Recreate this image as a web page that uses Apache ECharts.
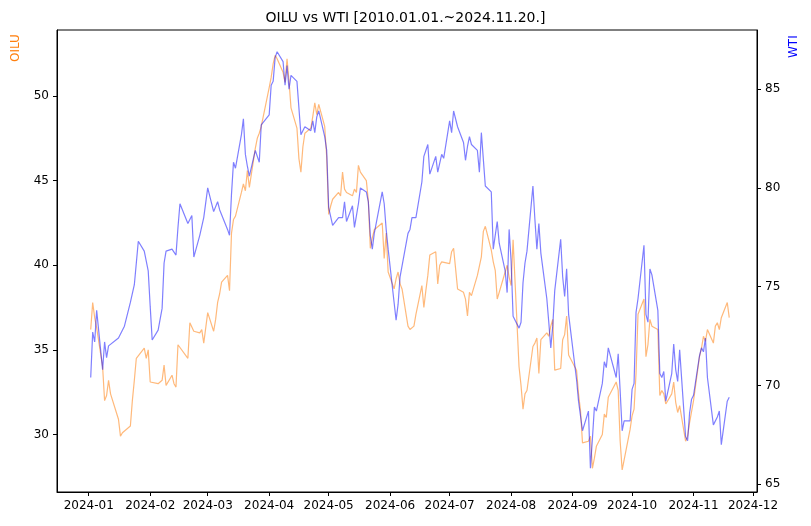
<!DOCTYPE html>
<html><head><meta charset="utf-8">
<script src="https://cdn.jsdelivr.net/npm/echarts@6/dist/echarts.min.js"></script>
<style>html,body{margin:0;padding:0;background:#fff}#c{width:811px;height:526px}</style>
</head><body><div id="c"></div>
<script>
const wtiDates = ['01-02','01-03','01-04','01-05','01-08','01-09','01-10','01-11','01-16','01-19','01-22','01-24','01-26','01-29','01-31','02-01','02-02','02-05','02-07','02-08','02-09','02-12','02-14','02-15','02-16','02-20','02-22','02-23','02-26','02-28','03-01','03-04','03-06','03-07','03-11','03-12','03-13','03-14','03-15','03-18','03-19','03-20','03-21','03-22','03-25','03-26','03-27','03-28','04-01','04-02','04-03','04-04','04-05','04-08','04-09','04-10','04-11','04-12','04-15','04-17','04-18','04-19','04-22','04-23','04-24','04-25','04-26','04-29','04-30','05-01','05-02','05-03','05-06','05-08','05-09','05-10','05-13','05-14','05-15','05-16','05-17','05-20','05-21','05-22','05-23','05-24','05-28','05-29','05-30','05-31','06-03','06-04','06-05','06-06','06-07','06-10','06-11','06-12','06-13','06-14','06-17','06-18','06-19','06-20','06-21','06-24','06-25','06-26','06-27','06-28','07-01','07-02','07-03','07-05','07-08','07-09','07-10','07-11','07-12','07-15','07-16','07-17','07-18','07-19','07-22','07-23','07-24','07-25','07-26','07-29','07-30','07-31','08-01','08-02','08-05','08-06','08-07','08-08','08-09','08-12','08-13','08-14','08-15','08-16','08-19','08-20','08-21','08-22','08-23','08-26','08-27','08-28','08-29','08-30','09-03','09-04','09-05','09-06','09-09','09-10','09-11','09-12','09-13','09-16','09-17','09-18','09-19','09-20','09-23','09-24','09-25','09-26','09-27','09-30','10-01','10-02','10-03','10-04','10-07','10-08','10-09','10-10','10-11','10-14','10-15','10-16','10-17','10-18','10-21','10-22','10-23','10-24','10-25','10-28','10-29','10-30','10-31','11-01','11-04','11-05','11-06','11-07','11-08','11-11','11-12','11-13','11-14','11-15','11-18','11-19'];
const wtiValues = [70.4,72.7,72.2,73.8,70.8,72.2,71.4,72.0,72.4,73.0,74.2,75.1,77.3,76.8,75.8,74.0,72.3,72.8,73.9,76.2,76.8,76.9,76.6,78.0,79.2,78.2,78.6,76.5,77.6,78.5,80.0,78.8,79.3,78.9,77.9,77.6,79.7,81.3,81.0,82.7,83.5,81.7,81.1,80.6,81.9,81.6,81.3,83.2,83.7,85.2,85.4,86.6,86.9,86.4,85.2,86.2,85.0,85.7,85.4,82.7,82.7,83.1,82.9,83.4,82.8,83.6,83.9,82.6,81.9,79.0,78.9,78.1,78.5,78.5,79.3,78.3,79.1,78.0,78.6,79.2,80.0,79.8,79.3,77.6,76.9,77.7,79.8,79.2,77.9,76.9,74.2,73.3,74.1,75.5,75.5,77.7,77.9,78.5,78.6,78.5,80.3,81.6,81.9,82.2,80.7,81.6,80.8,80.9,81.7,81.5,83.4,82.8,83.9,83.1,82.3,81.4,82.1,82.6,82.2,81.9,80.8,82.8,82.8,80.1,79.8,76.9,77.6,78.3,77.2,75.8,74.7,77.9,76.3,73.5,72.9,73.2,75.2,76.2,76.8,80.1,78.4,76.9,78.2,76.7,74.4,73.2,71.9,73.0,74.8,77.4,75.5,74.5,75.9,73.6,70.3,69.2,69.2,67.7,68.7,65.8,67.3,68.9,68.7,70.1,71.2,70.9,71.9,71.9,70.4,71.6,69.7,67.7,68.2,68.2,69.8,70.1,73.7,74.4,77.1,73.6,73.2,75.9,75.6,73.8,70.6,70.4,70.7,69.2,70.6,72.1,70.8,70.2,71.8,67.4,67.2,68.6,69.3,69.5,71.5,71.9,71.7,72.4,70.4,68.0,68.1,68.4,68.7,67.0,69.2,69.4];
const oiluDates = ['01-02','01-03','01-04','01-05','01-08','01-09','01-10','01-11','01-12','01-16','01-17','01-18','01-19','01-22','01-23','01-24','01-25','01-26','01-29','01-30','01-31','02-01','02-02','02-05','02-06','02-07','02-08','02-09','02-12','02-13','02-14','02-15','02-16','02-20','02-21','02-22','02-23','02-26','02-27','02-28','02-29','03-01','03-04','03-05','03-06','03-07','03-08','03-11','03-12','03-13','03-14','03-15','03-18','03-19','03-20','03-21','03-22','03-25','03-26','03-27','03-28','04-01','04-02','04-03','04-04','04-05','04-08','04-09','04-10','04-11','04-12','04-15','04-16','04-17','04-18','04-19','04-22','04-23','04-24','04-25','04-26','04-29','04-30','05-01','05-02','05-03','05-06','05-07','05-08','05-09','05-10','05-13','05-14','05-15','05-16','05-17','05-20','05-21','05-22','05-23','05-24','05-28','05-29','05-30','05-31','06-03','06-04','06-05','06-06','06-07','06-10','06-11','06-12','06-13','06-14','06-17','06-18','06-19','06-20','06-21','06-24','06-25','06-26','06-27','06-28','07-01','07-02','07-03','07-05','07-08','07-09','07-10','07-11','07-12','07-15','07-16','07-17','07-18','07-19','07-22','07-23','07-24','07-25','07-26','07-29','07-30','07-31','08-01','08-02','08-05','08-06','08-07','08-08','08-09','08-12','08-13','08-14','08-15','08-16','08-19','08-20','08-21','08-22','08-23','08-26','08-27','08-28','08-29','08-30','09-03','09-04','09-05','09-06','09-09','09-10','09-11','09-12','09-13','09-16','09-17','09-18','09-19','09-20','09-23','09-24','09-25','09-26','09-27','09-30','10-01','10-02','10-03','10-04','10-07','10-08','10-09','10-10','10-11','10-14','10-15','10-16','10-17','10-18','10-21','10-22','10-23','10-24','10-25','10-28','10-29','10-30','10-31','11-01','11-04','11-05','11-06','11-07','11-08','11-11','11-12','11-13','11-14','11-15','11-18','11-19'];
const oiluValues = [36.2,37.8,36.9,36.3,34.0,32.0,32.3,33.2,32.4,30.9,29.9,30.1,30.2,30.5,32.0,33.2,34.5,34.5,35.1,34.5,35.0,33.1,33.1,33.0,32.9,33.2,34.1,32.9,33.5,33.0,32.8,35.3,35.4,34.5,36.6,36.7,36.1,36.0,36.2,35.4,36.3,37.2,36.1,36.8,37.8,38.3,39.0,39.4,38.5,41.9,42.7,42.9,44.3,44.8,44.4,45.6,44.6,46.9,47.5,47.8,48.2,50.5,51.1,51.9,52.4,52.2,51.4,50.8,52.2,50.9,49.3,48.1,46.3,45.5,47.0,47.8,48.1,48.8,49.6,48.9,49.5,48.2,46.4,43.0,43.5,43.9,44.3,44.1,45.5,44.5,44.3,44.1,44.5,44.3,45.9,45.5,45.0,43.8,41.0,41.6,42.1,42.5,40.4,41.9,39.6,38.6,39.2,39.6,38.9,38.6,36.4,36.2,36.2,36.4,37.1,38.8,37.5,38.5,39.4,40.6,40.8,38.9,40.0,40.2,40.2,40.1,40.8,41.0,38.6,38.4,38.0,37.0,38.4,38.2,39.4,39.5,40.5,42.0,42.3,40.9,40.2,39.7,38.0,38.0,39.6,40.0,39.3,38.8,41.5,34.0,32.9,31.5,32.4,32.6,35.2,35.4,35.7,33.6,35.6,36.0,35.8,36.4,36.8,33.8,33.9,35.6,35.9,37.0,34.7,33.8,32.4,31.4,29.5,29.6,29.9,28.0,28.6,29.3,30.0,31.2,31.0,32.2,32.3,33.1,32.6,29.6,27.9,28.5,30.3,31.1,31.5,33.6,37.1,38.0,34.6,35.3,36.8,36.4,36.2,32.3,32.6,32.4,31.8,32.4,33.1,31.9,31.3,31.7,29.6,29.9,30.7,30.6,32.0,34.6,35.1,35.8,35.5,36.2,35.4,36.4,36.6,36.2,36.9,37.8,36.9];
const oiluTicks = [30,35,40,45,50];
const wtiTicks = [65,70,75,80,85];

const chart = echarts.init(document.getElementById('c'));
const font = 'DejaVu Sans';
function yAxisOf(min,max,ticks,pos){
  return {type:'value',min:min,max:max,position:pos,
    axisLine:{show:true,lineStyle:{color:'#000'}},
    axisTick:{show:true,inside:false,length:4,lineStyle:{color:'#000'},customValues:ticks},
    axisLabel:{color:'#000',fontFamily:font,fontSize:12,customValues:ticks,formatter:v=>String(Math.round(v))},
    splitLine:{show:false}};
}
chart.setOption({
  animation:false,
  title:{text:'OILU vs WTI [2010.01.01.~2024.11.20.]',left:'center',top:6,textStyle:{fontFamily:font,fontSize:14,fontWeight:'normal',color:'#000'}},
  grid:{left:57,right:54,top:30,bottom:34,show:true,borderColor:'#000',borderWidth:1},
  xAxis:{type:'time',min:'2023-12-16',max:'2024-12-03',minInterval:28*86400000,maxInterval:31*86400000,
    axisLine:{show:true,lineStyle:{color:'#000'}},
    axisTick:{show:true,inside:false,length:4,lineStyle:{color:'#000'}},
    splitLine:{show:false},
    axisLabel:{color:'#000',fontFamily:font,fontSize:12,hideOverlap:false,
      formatter:v=>{const d=new Date(v);return d.getFullYear()+'-'+String(d.getMonth()+1).padStart(2,'0');}}},
  yAxis:[yAxisOf(26.6,53.9,oiluTicks,'left'),yAxisOf(64.6,88.0,wtiTicks,'right')],
  graphic:[
    {type:'text',x:10,y:62,rotation:Math.PI/2,style:{text:'OILU',fill:'#ff7f0e',font:'12px DejaVu Sans'}},
    {type:'text',x:788,y:58,rotation:Math.PI/2,style:{text:'WTI',fill:'#0000ff',font:'12px DejaVu Sans'}}
  ],
  series:[
    {type:'line',yAxisIndex:0,showSymbol:false,lineStyle:{color:'#ff7f0e',width:1.2,opacity:0.55},itemStyle:{color:'#ff7f0e'},
      data:oiluDates.map((d,i)=>['2024-'+d,oiluValues[i]])},
    {type:'line',yAxisIndex:1,showSymbol:false,lineStyle:{color:'#0000ff',width:1.2,opacity:0.5},itemStyle:{color:'#0000ff'},
      data:wtiDates.map((d,i)=>['2024-'+d,wtiValues[i]])}
  ]
});
</script></body></html>
